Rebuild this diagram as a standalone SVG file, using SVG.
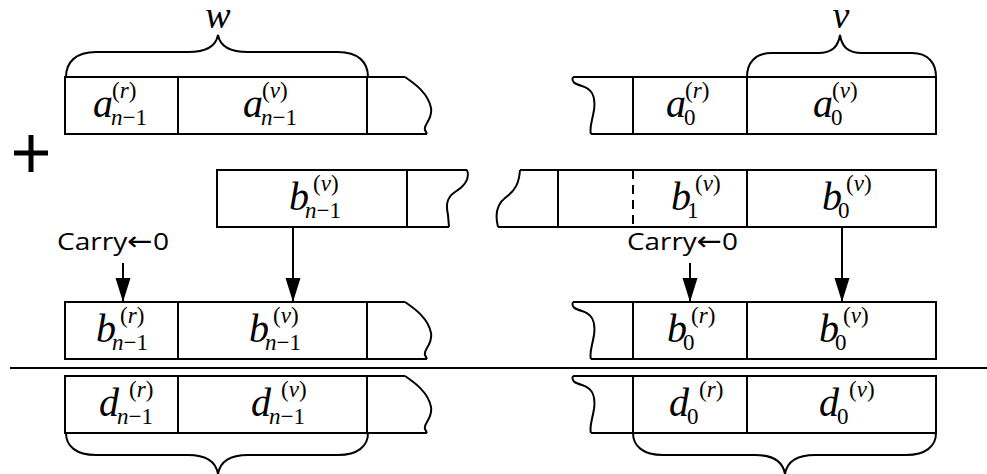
<svg xmlns="http://www.w3.org/2000/svg" width="987" height="474" viewBox="0 0 987 474">
<style>
.ln{fill:none;stroke:#000;stroke-width:2}
.br{fill:none;stroke:#000;stroke-width:2}
.m{font-family:"Liberation Serif","Times New Roman",serif;font-style:italic;font-size:40px;fill:#000}
.s{font-family:"Liberation Serif","Times New Roman",serif;font-style:italic;font-size:23px;fill:#000}
.u{font-style:normal}
.c{font-family:"Open Sans","Liberation Sans",Arial,sans-serif;font-size:24px;fill:#000}
.ar{font-family:"DejaVu Sans",sans-serif;font-size:26px}
.dash{stroke-dasharray:9,6}
</style>
<defs>
<marker id="ah" markerUnits="userSpaceOnUse" markerWidth="24" markerHeight="16" refX="24" refY="7.5" orient="auto">
<path d="M0,0 L24,7.5 L0,15 z" fill="#000"/>
</marker>
</defs>
<rect width="987" height="474" fill="#fff"/>

<g id="plus"><path d="M14,153 H48 M31,135 V172" stroke="#000" stroke-width="5" fill="none"/></g>

<g id="brace-w">
<path class="br" d="M66,77 C66,62 76,52 96,52 L188,52 C206,52 216,46 218,35 C220,46 230,52 248,52 L338,52 C358,52 368,62 368,77"/>
<text class="m" x="218" y="28" text-anchor="middle" style="font-size:38px">w</text>
</g>
<g id="brace-v">
<path class="br" d="M747,77 C747,63 755,53 772,53 L818,53 C832,53 838,47 840,35 C842,47 848,53 862,53 L912,53 C928,53 936,63 936,77"/>
<text class="m" x="841" y="28" text-anchor="middle" style="font-size:38px">ν</text>
</g>

<g id="rowA-left">
<path class="ln" d="M405,77 L65,77 L65,134 L427,134 M405,77 C412,82 428,92 431,108 C433,120 423,124 425,130 L427,134 M178,77 V134 M367,77 V134"/>
<text class="m" x="93" y="117">a</text><text class="s" x="111" y="125">n<tspan class="u">−1</tspan></text><text class="s" x="112" y="98"><tspan class="u">(</tspan>r<tspan class="u">)</tspan></text>
<text class="m" x="243" y="117">a</text><text class="s" x="261" y="125">n<tspan class="u">−1</tspan></text><text class="s" x="262" y="98"><tspan class="u">(</tspan>ν<tspan class="u">)</tspan></text>
</g>
<g id="rowA-right">
<path class="ln" d="M573,77 L936,77 L936,134 L591,134 M573,77 C571,82 575,84 582,86 C592,89 596,96 594,110 C592,122 589,128 591,134 M633,77 V134 M747,77 V134"/>
<text class="m" x="666" y="117">a</text><text class="s u" x="684" y="125">0</text><text class="s" x="685" y="98"><tspan class="u">(</tspan>r<tspan class="u">)</tspan></text>
<text class="m" x="813" y="117">a</text><text class="s u" x="831" y="125">0</text><text class="s" x="832" y="98"><tspan class="u">(</tspan>ν<tspan class="u">)</tspan></text>
</g>

<g id="rowB-left">
<path class="ln" d="M467,170 L217,170 L217,227 L449,227 M467,170 C470,178 465,186 455,192 C446,198 446,206 448,215 L449,227 M407,170 V227"/>
<text class="m" x="289" y="210">b</text><text class="s" x="305" y="218">n<tspan class="u">−1</tspan></text><text class="s" x="313" y="191"><tspan class="u">(</tspan>ν<tspan class="u">)</tspan></text>
</g>
<g id="rowB-right">
<path class="ln" d="M520,170 L936,170 L936,227 L498,227 M520,170 C519,183 516,190 505,198 C496,205 495,215 498,227 M558,170 V227 M747,170 V227"/>
<path class="ln dash" d="M633,170 V227"/>
<text class="m" x="671" y="210">b</text><text class="s u" x="687" y="218">1</text><text class="s" x="695" y="191"><tspan class="u">(</tspan>ν<tspan class="u">)</tspan></text>
<text class="m" x="822" y="210">b</text><text class="s u" x="838" y="218">0</text><text class="s" x="846" y="191"><tspan class="u">(</tspan>ν<tspan class="u">)</tspan></text>
</g>

<g id="carry-left"><text class="c" x="57" y="250" textLength="112" lengthAdjust="spacingAndGlyphs">Carry<tspan class="ar">←</tspan>0</text></g>
<g id="carry-right"><text class="c" x="627" y="250" textLength="111" lengthAdjust="spacingAndGlyphs">Carry<tspan class="ar">←</tspan>0</text></g>

<g id="connectors">
<line class="ln" x1="123" y1="263" x2="123" y2="302" marker-end="url(#ah)"/>
<line class="ln" x1="293" y1="227" x2="293" y2="302" marker-end="url(#ah)"/>
<line class="ln" x1="690" y1="263" x2="690" y2="302" marker-end="url(#ah)"/>
<line class="ln" x1="842" y1="227" x2="842" y2="302" marker-end="url(#ah)"/>
</g>

<g id="rowC-left">
<path class="ln" transform="translate(0,225)" d="M405,77 L65,77 L65,134 L427,134 M405,77 C412,82 428,92 431,108 C433,120 423,124 425,130 L427,134 M178,77 V134 M367,77 V134"/>
<text class="m" x="96" y="342">b</text><text class="s" x="112" y="350">n<tspan class="u">−1</tspan></text><text class="s" x="120" y="323"><tspan class="u">(</tspan>r<tspan class="u">)</tspan></text>
<text class="m" x="249" y="342">b</text><text class="s" x="265" y="350">n<tspan class="u">−1</tspan></text><text class="s" x="273" y="323"><tspan class="u">(</tspan>ν<tspan class="u">)</tspan></text>
</g>
<g id="rowC-right">
<path class="ln" transform="translate(0,225)" d="M573,77 L936,77 L936,134 L591,134 M573,77 C571,82 575,84 582,86 C592,89 596,96 594,110 C592,122 589,128 591,134 M633,77 V134 M747,77 V134"/>
<text class="m" x="667" y="342">b</text><text class="s u" x="683" y="350">0</text><text class="s" x="691" y="323"><tspan class="u">(</tspan>r<tspan class="u">)</tspan></text>
<text class="m" x="819" y="342">b</text><text class="s u" x="835" y="350">0</text><text class="s" x="843" y="323"><tspan class="u">(</tspan>ν<tspan class="u">)</tspan></text>
</g>

<g id="separator"><line x1="10" y1="368" x2="987" y2="368" stroke="#000" stroke-width="2"/></g>

<g id="rowD-left">
<path class="ln" transform="translate(0,299)" d="M405,77 L65,77 L65,134 L427,134 M405,77 C412,82 428,92 431,108 C433,120 423,124 425,130 L427,134 M178,77 V134 M367,77 V134"/>
<text class="m" x="99" y="416">d</text><text class="s" x="117" y="424">n<tspan class="u">−1</tspan></text><text class="s" x="129" y="397"><tspan class="u">(</tspan>r<tspan class="u">)</tspan></text>
<text class="m" x="251" y="416">d</text><text class="s" x="269" y="424">n<tspan class="u">−1</tspan></text><text class="s" x="281" y="397"><tspan class="u">(</tspan>ν<tspan class="u">)</tspan></text>
</g>
<g id="rowD-right">
<path class="ln" transform="translate(0,299)" d="M573,77 L936,77 L936,134 L591,134 M573,77 C571,82 575,84 582,86 C592,89 596,96 594,110 C592,122 589,128 591,134 M633,77 V134 M747,77 V134"/>
<text class="m" x="669" y="416">d</text><text class="s u" x="687" y="424">0</text><text class="s" x="699" y="397"><tspan class="u">(</tspan>r<tspan class="u">)</tspan></text>
<text class="m" x="819" y="416">d</text><text class="s u" x="837" y="424">0</text><text class="s" x="849" y="397"><tspan class="u">(</tspan>ν<tspan class="u">)</tspan></text>
</g>

<g id="brace-bottom-left">
<path class="br" d="M66,433 C66,446 76,455 96,455 L188,455 C206,455 216,462 218,474 C220,462 230,455 248,455 L338,455 C358,455 368,446 368,433"/>
</g>
<g id="brace-bottom-right">
<path class="br" d="M633,433 C633,446 643,455 663,455 L755,455 C773,455 783,462 785,474 C787,462 797,455 815,455 L906,455 C926,455 936,446 936,433"/>
</g>
</svg>
